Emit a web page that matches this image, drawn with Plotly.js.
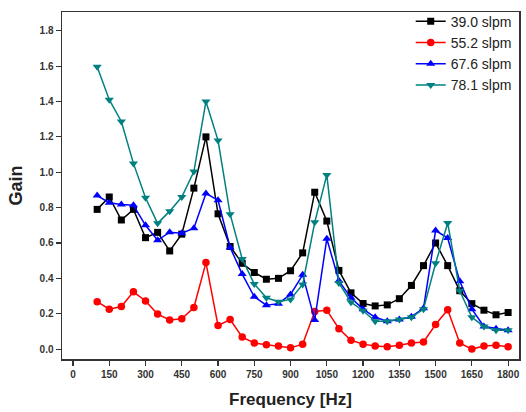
<!DOCTYPE html>
<html>
<head>
<meta charset="utf-8">
<script src="https://cdn.plot.ly/plotly-3.0.1.min.js"></script>
<style>html,body{margin:0;padding:0;background:#fff}#chart{width:526px;height:412px}</style>
</head>
<body>
<div id="chart"></div>
<script>
const freq = [100,150,200,250,300,350,400,450,500,550,600,650,700,750,800,850,900,950,1000,1050,1100,1150,1200,1250,1300,1350,1400,1450,1500,1550,1600,1650,1700,1750,1800];
const gain39 = [0.79,0.86,0.73,0.79,0.63,0.66,0.555,0.65,0.91,1.20,0.765,0.58,0.485,0.433,0.395,0.40,0.443,0.544,0.887,0.724,0.445,0.318,0.258,0.244,0.25,0.285,0.36,0.472,0.60,0.472,0.33,0.257,0.22,0.194,0.207];
const gain55 = [0.268,0.226,0.241,0.324,0.272,0.198,0.165,0.172,0.235,0.489,0.133,0.167,0.068,0.035,0.025,0.018,0.007,0.028,0.213,0.22,0.115,0.05,0.028,0.018,0.013,0.022,0.035,0.04,0.139,0.222,0.035,0.0,0.017,0.022,0.013];
const gain67 = [0.868,0.828,0.818,0.813,0.70,0.615,0.661,0.655,0.683,0.88,0.841,0.575,0.424,0.296,0.248,0.257,0.309,0.42,0.165,0.624,0.386,0.29,0.226,0.18,0.157,0.167,0.183,0.231,0.67,0.628,0.383,0.226,0.128,0.115,0.106];
const gain78 = [1.596,1.41,1.287,1.05,0.856,0.711,0.78,0.86,1.004,1.40,1.18,0.763,0.51,0.368,0.29,0.268,0.281,0.365,0.717,0.985,0.374,0.265,0.217,0.157,0.157,0.167,0.18,0.226,0.485,0.713,0.33,0.18,0.128,0.106,0.106];
const names = ["39.0 slpm","55.2 slpm","67.6 slpm","78.1 slpm"];
const colors = ["#000000","#ff0000","#0000ff","#008080"];
const symbols = ["square","circle","triangle-up","triangle-down"];
const sizes = [7,7.5,8,8];
const series = [gain39,gain55,gain67,gain78];

const traces = series.map((ys,i)=>({
  x: freq, y: ys, name: names[i], type:'scatter', mode:'lines+markers',
  line:{color:colors[i], width:1.5},
  marker:{symbol:symbols[i], size:sizes[i], color:colors[i]}
}));

const tickFont = {family:'Liberation Sans, Arial, sans-serif', size:10, color:'#333', weight:'bold'};
const layout = {
  width:526, height:412,
  margin:{l:62, r:7, t:6, b:53},
  paper_bgcolor:'#fff', plot_bgcolor:'#fff',
  showlegend:true,
  legend:{x:0.995, y:1.018, xanchor:'right', yanchor:'top', bgcolor:'rgba(0,0,0,0)',
          font:{family:'Liberation Sans, Arial, sans-serif', size:14, color:'#222'},
          tracegroupgap:0, itemwidth:30},
  xaxis:{
    range:[-45.5,1845], tickvals:[0,150,300,450,600,750,900,1050,1200,1350,1500,1650,1800],
    ticks:'outside', ticklen:5, tickwidth:1.2, tickcolor:'#333',
    showline:true, linecolor:'#333', linewidth:1.5, mirror:true,
    showgrid:false, zeroline:false, tickfont:tickFont,
    title:{text:'Frequency [Hz]', font:{family:'Liberation Sans, Arial, sans-serif', size:17, color:'#222', weight:'bold'}, standoff:14}
  },
  yaxis:{
    range:[-0.056,1.906], tickvals:[0,0.2,0.4,0.6,0.8,1.0,1.2,1.4,1.6,1.8], tickformat:'.1f',
    ticks:'outside', ticklen:5, tickwidth:1.2, tickcolor:'#333',
    showline:true, linecolor:'#333', linewidth:1.5, mirror:true,
    showgrid:false, zeroline:false, tickfont:tickFont,
    title:{text:'Gain', font:{family:'Liberation Sans, Arial, sans-serif', size:18, color:'#222', weight:'bold'}, standoff:12}
  }
};
Plotly.newPlot('chart', traces, layout, {displayModeBar:false, staticPlot:true});
</script>
</body>
</html>
